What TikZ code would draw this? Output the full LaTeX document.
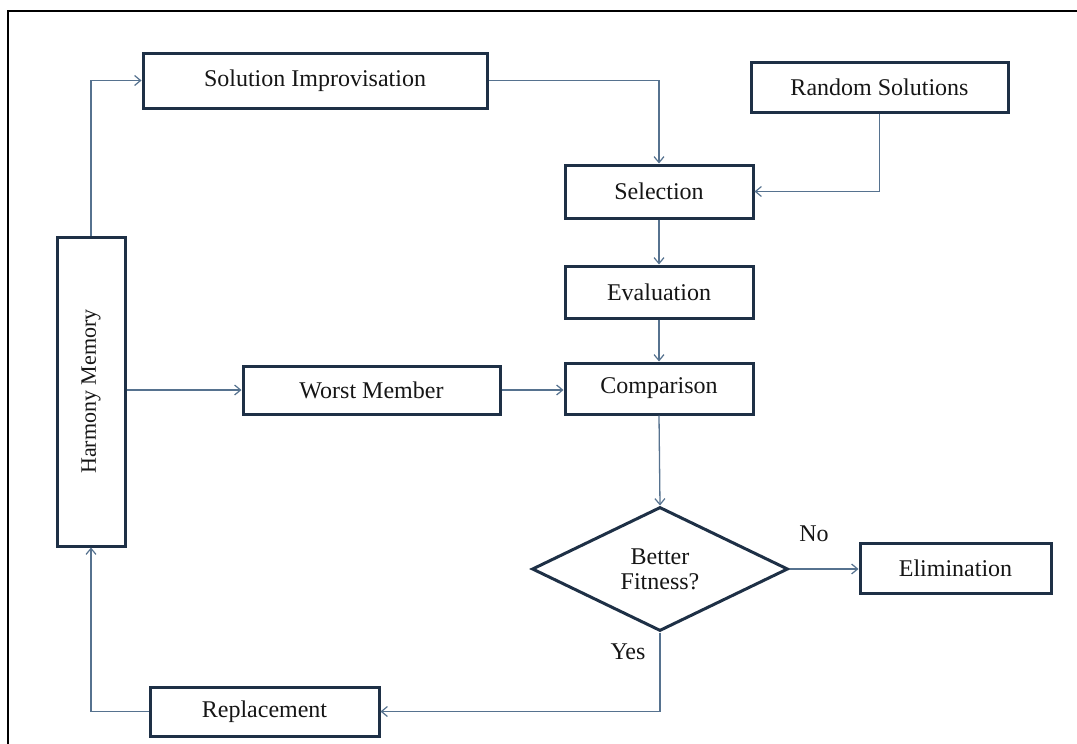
\documentclass[tikz,border=0pt]{standalone}
\usepackage{fontspec}
\setmainfont{Liberation Serif}
\usetikzlibrary{arrows.meta,shapes.geometric}
\definecolor{boxline}{HTML}{1E3046}
\definecolor{arrline}{HTML}{56728F}
\definecolor{txt}{HTML}{161616}
\tikzset{
  box/.style={draw=boxline,line width=3pt,fill=white,inner sep=0pt,text=txt,
    font=\fontsize{24}{28}\selectfont},
  conn/.style={draw=arrline,line width=1.3pt,-{Straight Barb[length=6pt,width=10pt,line width=1.2pt]}},
  lbl/.style={text=txt,font=\fontsize{24}{28}\selectfont,inner sep=0pt}
}
\begin{document}
\begin{tikzpicture}[x=1pt,y=-1pt]
\useasboundingbox (0,0) rectangle (1077,744);
% frame
\draw[black,line width=2pt] (8,744) -- (8,11) -- (1077,11);
% nodes
\node[box,minimum width=344pt,minimum height=55pt] (si) at (315,80.5) {Solution Improvisation};
\node[box,minimum width=257pt,minimum height=50pt] (rs) at (879.5,87) {Random Solutions};
\node[box,minimum width=188pt,minimum height=53pt] (sel) at (659,191.5) {Selection};
\node[box,minimum width=188pt,minimum height=52pt] (ev) at (659,292) {Evaluation};
\node[box,minimum width=188pt,minimum height=51pt] (cmp) at (659,388.5) {Comparison};
\node[box,minimum width=257pt,minimum height=48pt] (wm) at (371.5,390) {Worst Member};
\node[box,minimum width=68pt,minimum height=309pt] (hm) at (91,391.5) {};
\node[lbl,rotate=90,font=\fontsize{22}{26}\selectfont] (hmt) at (hm.center) {Harmony Memory};
\node[box,shape=diamond,aspect=2.06,minimum width=256pt,minimum height=124pt,
  align=center,font=\fontsize{24}{25}\selectfont] (dec) at (660,569) {Better\\Fitness?};
\node[box,minimum width=191pt,minimum height=50pt] (el) at (955.5,568) {Elimination};
\node[box,minimum width=229pt,minimum height=49pt] (rep) at (264.5,711.5) {Replacement};
% labels
\node[lbl] (no) at (814,534) {No};
\node[lbl] (yes) at (628,652) {Yes};
% connectors
\draw[conn] (hm.north) |- (si.west);
\draw[conn] (si.east) -| (sel.north);
\draw[conn] (rs.south) |- (sel.east);
\draw[conn] (sel.south) -- (ev.north);
\draw[conn] (ev.south) -- (cmp.north);
\draw[conn] (hm.east |- wm.west) -- (wm.west);
\draw[conn] (wm.east) -- (cmp.west |- wm.east);
\draw[conn] (cmp.south) -- (dec.north);
\draw[conn] (dec.east) -- (el.west |- dec.east);
\draw[conn] (dec.south) |- (rep.east);
\draw[conn] (rep.west) -| (hm.south);
\end{tikzpicture}
\end{document}
